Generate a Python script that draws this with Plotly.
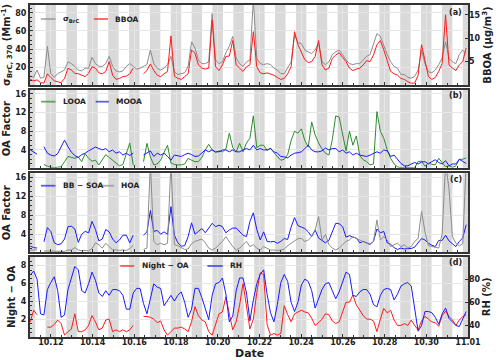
import pandas as pd
import plotly.graph_objects as go

# sample times (roughly every 4 h)
times = pd.date_range("2023-10-11 00:15", periods=128, freq="237min")
x_start, x_end = "2023-10-11 00:00", "2023-11-01 00:00"

# (a) sigma_BrC,370 (Mm-1) and BBOA (ug/m3)
brc_370 = [10.5, 9, 17, 8, 9, 43, 13, 9, 13, 15,
           17, 26, 24, 21, 17, 16, 19, 19, 31, 24,
           21, 21, 24, 32, 21, 16, 15, 16, 21, 24,
           21, 18, 19, 21, 23, 39, 24, 19, 17, 19,
           23, 32, 15, 12, 13, 14, 21, 48, 41, 28,
           24, 24, 26, 79, 28, 24, 26, 36, 43, 54,
           30, 24, 21, 26, 28, 95, 30, 24, 23, 24,
           23, 19, 17, 13, 13, 19, 26, 55, 47, 46,
           39, 37, 35, 39, 47, 26, 23, 26, 34, 37,
           39, 34, 28, 24, 23, 24, 24, 28, 32, 34,
           46, 57, 54, 43, 34, 26, 21, 19, 12, 12,
           9, 8, 10, 17, 39, 24, 15, 14, 17, 23,
           30, 48, 30, 26, 24, 34, 39, 35]
bboa = [1.2, 0.9, 1.1, 0.5, 0.4, 2.4, 1.6, 0.9, 0.7, 0.5,
        1.4, 3.6, 3.2, 2.5, 2.4, 2.1, 1.8, 2.5, 3.9, 3.6,
        2.6, 2.4, 2.9, 5.0, 2.1, 1.2, 1.4, 1.8, 1.9, 2.4,
        3.6, None, None, 2.4, 3.1, 4.5, 3.1, 2.1, 1.8, 2.4,
        2.9, 10.5, 1.9, 1.4, 1.2, 1.8, 2.4, 7.5, 6.8, 4.3,
        3.6, 3.4, 3.6, 13.9, 3.9, 3.1, 4.3, 6.1, 6.2, 9.5,
        4.3, 3.6, 2.9, 3.9, 4.3, 11.4, 3.9, 2.6, 2.4, 2.6,
        2.4, 2.1, 1.6, 1.2, 1.4, 2.4, 3.9, 11.4, 8.6, 6.8,
        5.4, 4.8, 5.0, 6.1, 9.5, 4.3, 3.2, 3.6, 5.7, 6.4,
        6.9, 5.9, 5.0, 3.6, 3.1, 3.4, 3.6, 4.3, 5.2, 5.0,
        6.4, 8.6, 9.5, 7.5, 5.0, 2.9, 2.4, 2.1, 1.4, 1.2,
        0.7, 0.4, 0.4, 2.1, 8.6, 5.0, 1.8, 1.2, 1.6, 2.9,
        4.6, 15.0, 4.3, 3.6, 3.1, 4.3, 5.0, 7.9]

# (b) LOOA and MOOA
looa = [None, None, None, None, 0.9, 0.5, 0.3, 0.2, 0.3, 0.4,
        1.5, 2.6, 2.4, 2.2, 2.5, 1.5, 3.2, 2.2, 1.6, 1.8,
        0.8, 2.0, 3.0, 2.4, 1.8, 1.0, 0.6, 0.9, 3.0, 5.5,
        0.8, None, None, 1.5, 5.4, 2.5, 0.8, 1.0, 1.8, 3.5,
        5.0, 1.2, 0.9, 0.8, 0.8, 1.0, 2.2, 1.8, 1.5, 1.5,
        2.4, 4.0, 5.2, 4.0, 3.5, 3.8, 3.6, 4.2, 7.6, 4.5,
        3.6, 5.4, 3.6, 5.5, 6.5, 11.3, 4.5, 5.0, 5.0, 3.9,
        4.4, 3.4, 2.5, 1.8, 2.0, 3.0, 6.0, 8.0, 7.6, 8.5,
        6.0, 4.6, 10.0, 7.2, 5.5, 4.2, 3.3, 2.9, 6.2, 11.3,
        11.0, 7.5, 3.8, 8.0, 5.0, 7.0, 2.8, 1.9, 1.5, 0.8,
        1.0, 12.2, 8.0, 6.5, 4.0, 2.2, 1.0, 0.4, 0.2, 0.2,
        0.2, 0.2, 0.2, 1.5, 1.6, 0.5, 1.2, 0.9, 0.8, 2.2,
        1.2, 0.4, 0.6, 0.3, 0.6, 2.0, 2.0, 2.3]
mooa = [4.0, 3.6, 3.1, None, 4.7, 3.3, 2.9, 2.7, 3.2, 4.5,
        6.1, 4.7, 3.5, 2.8, 2.4, 3.0, 3.3, 3.8, 4.2, 4.6,
        4.3, 4.0, 4.3, 3.6, 4.0, 3.3, 3.6, 2.9, 3.3, 2.8,
        3.3, None, None, 2.9, 3.3, 3.8, 2.6, 3.3, 2.9, 3.3,
        2.6, 1.8, 2.9, 2.7, 2.6, 3.0, 3.3, 3.0, 2.6, 2.7,
        3.3, 4.0, 3.6, 4.0, 3.6, 3.6, 4.0, 4.0, 3.6, 4.0,
        3.6, 3.6, 4.0, 4.3, 4.0, 5.0, 4.0, 4.3, 4.0, 4.0,
        4.3, 3.6, 3.3, 2.6, 2.5, 2.3, 2.9, 3.3, 3.4, 3.6,
        4.3, 5.0, 4.0, 3.6, 3.6, 3.8, 4.4, 4.0, 4.3, 4.3,
        3.6, 4.0, 3.3, 3.6, 2.9, 3.3, 2.9, 2.8, 2.6, 2.9,
        3.3, 3.6, 3.3, 4.0, 3.8, 2.6, 2.9, 1.9, 1.1, 0.6,
        0.6, 1.0, 1.3, 1.0, 1.4, 1.5, 1.0, 1.5, 1.9, 1.3,
        1.0, 1.7, 0.6, 1.0, 1.0, 2.0, 1.5, 1.1]

# (c) BB-SOA and HOA
bb_soa = [1.5, 1.2, 1.1, None, 2.4, 5.4, 4.6, 2.2, 1.8, 2.0,
          3.0, 5.6, 5.7, 5.1, 2.3, 4.0, 4.6, 4.3, 6.7, 5.0,
          2.6, 3.0, 5.0, 4.5, 3.0, 2.2, 2.8, 3.8, 3.8, 2.2,
          3.8, None, None, 3.8, 4.5, 9.0, 4.6, 4.8, 4.0, 4.5,
          4.0, 9.8, 3.8, 2.2, 1.5, 1.6, 3.5, 6.4, 4.0, 4.6,
          5.2, 4.3, 5.2, 6.3, 5.6, 5.9, 5.6, 4.3, 4.9, 5.3,
          5.3, 4.6, 3.8, 3.5, 6.7, 8.5, 5.0, 2.8, 4.5, 2.5,
          2.4, 2.5, 2.1, 2.5, 3.1, 2.9, 5.5, 7.5, 5.8, 5.5,
          5.2, 4.5, 3.5, 4.9, 3.2, 2.7, 2.2, 2.7, 4.7, 6.3,
          6.2, 5.6, 3.4, 3.7, 3.4, 3.2, 2.2, 2.5, 2.2, 1.9,
          2.5, 5.1, 4.3, 4.6, 2.2, 1.9, 1.2, 0.8, 1.1, 0.9,
          1.0, 1.0, 1.3, 2.3, 3.1, 2.8, 2.1, 1.7, 1.4, 2.7,
          2.7, 3.8, 2.6, 2.0, 1.4, 2.5, 3.2, 6.0]
hoa = [0.7, 0.7, 0.7, None, 0.5, 0.5, 0.5, 0.4, 0.4, 0.4,
       0.4, 0.7, 0.7, 1.2, 0.7, 0.5, 0.6, 0.5, 1.0, 2.2,
       1.8, 1.1, 2.1, 1.4, 0.8, 0.7, 0.6, 0.7, 0.6, 1.0,
       1.7, None, None, 0.8, 1.1, 19, 2.5, 1.8, 2.1, 1.8,
       2.1, 19, 1.8, 1.6, 1.2, 0.8, 0.9, 2.0, 2.5, 2.8,
       3.0, 2.2, 1.1, 0.7, 1.1, 1.8, 2.5, 3.5, 2.5, 1.4,
       0.7, 1.1, 1.8, 2.5, 1.4, 1.8, 1.1, 0.7, 1.4, 1.1,
       0.7, 0.7, 0.6, 0.7, 0.9, 1.6, 2.1, 2.6, 3.1, 3.1,
       2.5, 2.8, 3.5, 4.9, 7.7, 2.8, 4.0, 1.8, 1.1, 0.7,
       1.1, 1.8, 2.5, 2.8, 3.5, 3.1, 2.8, 2.5, 2.1, 1.8,
       2.5, 7.0, 2.8, 3.5, 2.8, 1.4, 1.8, 2.1, 1.4, 1.8,
       1.1, 1.4, 2.5, 3.1, 8.8, 4.5, 1.6, 1.4, 1.2, 1.1,
       4.0, 19, 13.5, 3.5, 2.1, 1.6, 2.0, 19]

# (d) Night-OA and RH (%)
night_oa = [1.7, 3.0, 2.5, None, None, 1.1, 1.1, 1.4, 1.9, 1.5,
            0.2, 0.6, 0.9, 2.6, 0.6, 0.6, 0.8, 1.3, 2.4, 1.7,
            0.8, 1.0, 1.9, 2.0, 0.6, 0.8, 0.6, 0.8, 0.6, 0.8,
            1.3, None, None, 2.3, 2.3, 2.2, 2.0, 1.6, 1.8, 0.8,
            0.2, 0.6, 1.0, 1.0, 1.1, 0.9, 0.6, 1.7, 3.4, 2.4,
            1.9, 1.7, 0.6, 0.2, 1.3, 2.6, 2.8, 4.5, 2.6, 0.8,
            1.7, 3.6, 6.0, 3.4, 0.9, 2.0, 5.0, 7.2, 7.0, 1.4,
            0.2, 0.4, 0.2, 0.4, 3.5, 2.5, 1.7, 2.6, 2.8, 3.0,
            2.8, 2.7, 2.1, 1.3, 1.6, 2.0, 2.6, 2.5, 1.8, 1.5,
            1.7, 2.7, 3.9, 3.9, 4.7, 3.6, 3.0, 2.4, 2.0, 2.0,
            1.8, 0.6, 2.0, 3.2, 2.7, 3.0, 1.9, 1.3, 1.3, 1.5,
            1.3, 1.9, 1.3, 0.8, 1.8, 2.3, 2.0, 1.7, 1.6, 1.2,
            2.4, 2.9, 2.3, 1.9, 1.3, 1.9, 2.3, 2.5]
rh = [83.5, 87, 80, 50, 49, 71, 77, 82, 70, 47,
      49, 71, 81, 91, 88, 70, 68, 76, 86, 79,
      68, 65, 70, 66, 71, 71, 70, 66, 54, 54,
      68, 72, 72, 59, 50, 63, 76, 73, 72, 57,
      62, 66, 61, 66, 69, 60, 47, 54, 72, 72,
      64, 54, 45, 66, 76, 77, 81, 67, 43, 48,
      70, 81, 81, 68, 44, 62, 76, 84, 88, 67,
      51, 43, 58, 77, 84, 78, 60, 52, 60, 75,
      80, 78, 70, 55, 64, 71, 76, 77, 70, 63,
      69, 77, 86, 84, 66, 65, 69, 71, 71, 67,
      58, 56, 66, 71, 72, 71, 62, 67, 74, 76,
      77, 74, 54, 35, 40, 52, 52, 51, 47, 41,
      50, 55, 46, 43, 40, 39, 45, 52]

RED, GRAY, BLUE, GREEN = "#ff1a1a", "#8c8c8c", "#1a1aff", "#2e8b2e"
FRAME = "#333333"
BAND = "#d9d9d9"
GRID = "#e6e6e6"

fig = go.Figure()

def line(y, color, xa, ya, name):
    fig.add_trace(go.Scatter(x=times, y=y, mode="lines", name=name,
                             line=dict(color=color, width=1),
                             xaxis=xa, yaxis=ya, showlegend=False))

line(brc_370, GRAY, "x", "y", "σBrC")
line(bboa, RED, "x", "y2", "BBOA")
line(looa, GREEN, "x2", "y3", "LOOA")
line(mooa, BLUE, "x2", "y3", "MOOA")
line(bb_soa, BLUE, "x3", "y4", "BB-SOA")
line(hoa, GRAY, "x3", "y4", "HOA")
line(night_oa, RED, "x4", "y5", "Night-OA")
line(rh, BLUE, "x4", "y6", "RH")

tick_font = dict(family="DejaVu Sans", size=8, color="#222", weight="bold")
title_font = dict(family="DejaVu Sans", size=10, color="#222", weight="bold")

def x_axis(anchor, labels, match=None):
    ax = dict(type="date", range=[x_start, x_end], anchor=anchor, domain=[0, 1],
              automargin=False,
              tick0="2023-10-12", dtick=2 * 86400000, tickformat="%m.%d",
              ticks="inside", ticklen=3, tickcolor=FRAME, ticklabelstandoff=-4,
              showticklabels=labels, tickfont=tick_font,
              showgrid=True, gridcolor=GRID, gridwidth=0.5,
              minor=dict(dtick=43200000, ticks="inside", ticklen=2, tickcolor=FRAME,
                         showgrid=False),
              showline=True, linewidth=2, linecolor=FRAME, mirror=True)
    if match:
        ax["matches"] = match
    return ax

def y_axis(dom, rng, vals, title, anchor, side="left", overlay=None):
    ax = dict(range=rng, tickvals=vals, anchor=anchor, side=side, automargin=False,
              ticks="inside", ticklen=3, tickcolor=FRAME, tickfont=tick_font,
              title=dict(text=title, font=title_font, standoff=3),
              zeroline=False)
    if overlay:
        ax.update(overlaying=overlay, showgrid=False, showline=False)
    else:
        ax.update(domain=dom, showgrid=True, gridcolor=GRID, gridwidth=0.5,
                  minor=dict(ticks="inside", ticklen=2, tickcolor=FRAME, showgrid=False),
                  showline=True, linewidth=2, linecolor=FRAME, mirror=True)
    return ax

dom_a, dom_b, dom_c, dom_d = [0.759, 1.0], [0.51, 0.745], [0.255, 0.493], [0.0, 0.242]

fig.update_layout(
    xaxis=x_axis("y", False, "x4"),
    xaxis2=x_axis("y3", False, "x4"),
    xaxis3=x_axis("y4", False, "x4"),
    xaxis4=x_axis("y5", True),
    yaxis=y_axis(dom_a, [0.5, 88.5], [20, 40, 60, 80],
                 "σ<sub>BrC, 370</sub> (Mm<sup>-1</sup>)", "x"),
    yaxis2=y_axis(None, [0, 17.1], [5, 10, 15], "BBOA (μg/m<sup>3</sup>)", "x",
                  side="right", overlay="y"),
    yaxis3=y_axis(dom_b, [0.2, 16.9], [4, 8, 12, 16], "OA Factor", "x2"),
    yaxis4=y_axis(dom_c, [0.2, 16.8], [4, 8, 12, 16], "OA Factor", "x3"),
    yaxis5=y_axis(dom_d, [0, 9], [2, 4, 6, 8], "Night − OA", "x4"),
    yaxis6=y_axis(None, [30, 99.4], [40, 60, 80], "RH (%)", "x4",
                  side="right", overlay="y5"),
)

# night-time shading (18:00 - 06:00)
panels = [("x", "y"), ("x2", "y3"), ("x3", "y4"), ("x4", "y5")]
shapes = []
for xr, yr in panels:
    for start in pd.date_range("2023-10-10 18:00", "2023-10-31 18:00", freq="D"):
        shapes.append(dict(type="rect", xref=xr, yref=yr + " domain",
                           x0=start, x1=start + pd.Timedelta(hours=12), y0=0, y1=1,
                           fillcolor=BAND, line=dict(width=0), layer="below"))

# legends and panel tags drawn inside each panel
legend_items = [
    ("x", "y", 0.825, [(0.025, 0.058, GRAY, "σ<sub>BrC</sub>"), (0.146, 0.178, RED, "BBOA")]),
    ("x2", "y3", 0.846, [(0.025, 0.058, GREEN, "LOOA"), (0.150, 0.180, BLUE, "MOOA")]),
    ("x3", "y4", 0.843, [(0.025, 0.058, BLUE, "BB − SOA"), (0.158, 0.192, GRAY, "HOA")]),
    ("x4", "y5", 0.884, [(0.206, 0.238, RED, "Night − OA"), (0.405, 0.440, BLUE, "RH")]),
]
annotations = []
leg_font = dict(family="DejaVu Sans", size=7.5, color="#222", weight="bold")
for xr, yr, yy, items in legend_items:
    for x0, x1, col, label in items:
        shapes.append(dict(type="line", xref=xr + " domain", yref=yr + " domain",
                           x0=x0, x1=x1, y0=yy, y1=yy, opacity=0.7,
                           line=dict(color=col, width=1.8)))
        annotations.append(dict(xref=xr + " domain", yref=yr + " domain", x=x1 + 0.012, y=yy,
                                text=label, showarrow=False, xanchor="left",
                                yanchor="middle", font=leg_font))

for (xr, yr), tag, yy in zip(panels, ["(a)", "(b)", "(c)", "(d)"], [0.91, 0.92, 0.92, 0.93]):
    annotations.append(dict(xref=xr + " domain", yref=yr + " domain", x=0.992, y=yy,
                            text=tag, showarrow=False, xanchor="right", yanchor="middle",
                            font=dict(family="DejaVu Sans", size=8, color="#222",
                                      weight="bold")))

# x-axis title, placed just under the date labels
annotations.append(dict(xref="paper", yref="paper", x=0.5, y=-0.049, text="Date",
                        showarrow=False, xanchor="center", yanchor="middle",
                        font=dict(family="DejaVu Sans", size=11, color="#222",
                                  weight="bold")))

fig.update_layout(
    shapes=shapes, annotations=annotations,
    width=500, height=360,
    margin=dict(l=30, r=32, t=5, b=23),
    plot_bgcolor="white", paper_bgcolor="white",
    font=dict(family="DejaVu Sans"),
    showlegend=False,
)

# the page body has a default margin; drop it so the figure sits at the window corner
fig.write_html("out.html", config={"displayModeBar": False},
               post_script="document.body.style.margin = '0';")
